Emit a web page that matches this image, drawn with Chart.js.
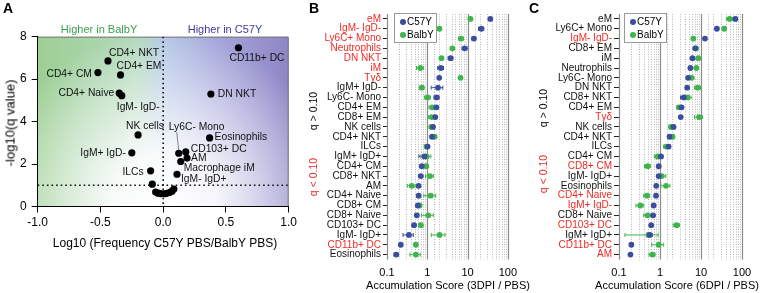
<!DOCTYPE html>
<html><head><meta charset="utf-8">
<script src="https://cdn.jsdelivr.net/npm/chart.js@4"></script>
<style>
body{margin:0;background:#fff;width:762px;height:293px;overflow:hidden;position:relative;font-family:"Liberation Sans",Arial,sans-serif;}
.box{position:absolute;}
.t{position:absolute;white-space:nowrap;line-height:1;transform:translate(-50%,-50%);}
.r{transform:translate(-50%,-50%) rotate(-90deg);}
.lg{position:absolute;border:1px solid #9a9a9a;background:#fff;}
.lg div{position:absolute;font-size:10px;line-height:1;}
.dot{position:absolute;width:6px;height:6px;border-radius:50%;}
</style></head><body>
<div class="box" style="left:0;top:0;width:300px;height:293px"><canvas id="cA"></canvas></div>
<div class="box" style="left:262px;top:0;width:262px;height:293px"><canvas id="cB"></canvas></div>
<div class="box" style="left:512px;top:0;width:250px;height:293px"><canvas id="cC"></canvas></div>

<div class="t" style="left:8px;top:8px;font-weight:bold;font-size:14px">A</div>
<div class="t" style="left:99px;top:29px;font-size:11px;color:#3aa04f">Higher in BalbY</div>
<div class="t" style="left:225px;top:29px;font-size:11px;color:#3c3c9c">Higher in C57Y</div>
<div class="t r" style="left:10px;top:123px;font-size:13px">-log10(q value)</div>
<div class="t" style="left:165px;top:243px;font-size:12px">Log10 (Frequency C57Y PBS/BalbY PBS)</div>

<div class="t" style="left:314px;top:8px;font-weight:bold;font-size:14px">B</div>
<div class="t r" style="left:313px;top:111px;font-size:10.5px">q &gt; 0.10</div>
<div class="t r" style="left:313px;top:177px;font-size:10.5px;color:#ee2a24">q &lt; 0.10</div>
<div class="t" style="left:448px;top:285px;font-size:11px">Accumulation Score (3DPI / PBS)</div>

<div class="t" style="left:534px;top:8px;font-weight:bold;font-size:14px">C</div>
<div class="t r" style="left:543px;top:108px;font-size:10.5px">q &gt; 0.10</div>
<div class="t r" style="left:543px;top:174px;font-size:10.5px;color:#ee2a24">q &lt; 0.10</div>
<div class="t" style="left:677px;top:285px;font-size:11px">Accumulation Score (6DPI / PBS)</div>

<div class="lg" style="left:394px;top:13px;width:41px;height:28px">
  <span class="dot" style="left:5px;top:5px;background:#3a4da0"></span><div style="left:12px;top:3px">C57Y</div>
  <span class="dot" style="left:5px;top:18px;background:#3db54a"></span><div style="left:12px;top:16px">BalbY</div>
</div>
<div class="lg" style="left:624px;top:13px;width:41px;height:28px">
  <span class="dot" style="left:5px;top:5px;background:#3a4da0"></span><div style="left:12px;top:3px">C57Y</div>
  <span class="dot" style="left:5px;top:18px;background:#3db54a"></span><div style="left:12px;top:16px">BalbY</div>
</div>

<script>
// ---------- Panel A data ----------
const volcanoNames = ['CD11b+ DC','CD4+ NKT','CD4+ CM','CD4+ EM','CD4+ Naive','IgM- IgD-','DN NKT','NK cells','Eosinophils','Ly6C- Mono','CD103+ DC','IgM+ IgD-','AM','Macrophage iM','ILCs','IgM- IgD+','','','','','','','','',''];
const volcanoX = [0.60,-0.44,-0.52,-0.34,-0.35,-0.33,0.38,-0.20,0.37,0.124,0.18,-0.25,0.19,0.14,-0.10,0.11,-0.087,-0.06,-0.04,-0.02,0.01,0.03,0.05,0.07,0.085];
const volcanoY = [7.48,6.86,6.31,6.20,5.34,5.22,5.30,3.37,3.23,2.51,2.57,2.53,2.28,2.12,1.68,1.52,1.05,0.68,0.63,0.61,0.60,0.62,0.66,0.72,0.82];
const xTicksA = [-1,-0.5,0,0.5,1];
const yTicksA = [0,2,4,6,8];
// label placement (style): offset in px from the point
const labelPlace = [
 {dx:-9,dy:10,a:'left'},{dx:1,dy:-8,a:'left'},{dx:-6,dy:2,a:'right'},{dx:-4,dy:-9,a:'left'},
 {dx:-5,dy:0,a:'right'},{dx:-5,dy:11,a:'left'},{dx:7,dy:0,a:'left'},{dx:-12,dy:-9,a:'left'},
 {dx:5,dy:-1,a:'left'},{dx:-10,dy:-26,a:'left',leader:true},{dx:5,dy:-3,a:'left'},{dx:-6,dy:0,a:'right'},
 {dx:4,dy:0,a:'left'},{dx:3,dy:7,a:'left'},{dx:-7,dy:1,a:'right'},{dx:4,dy:5,a:'left'}
];

// ---------- Panel B data ----------
const catsB = ['eM','IgM- IgD-','Ly6C+ Mono','Neutrophils','DN NKT','iM','Tγδ','IgM+ IgD-','Ly6C- Mono','CD4+ EM','CD8+ EM','NK cells','CD4+ NKT','ILCs','IgM+ IgD+','CD4+ CM','CD8+ NKT','AM','CD4+ Naive','CD8+ CM','CD8+ Naive','CD103+ DC','IgM- IgD+','CD11b+ DC','Eosinophils'];
const redB = ['eM','IgM- IgD-','Ly6C+ Mono','Neutrophils','DN NKT','iM','Tγδ','CD11b+ DC'];
const c57B = [36.8,22,14.4,8.5,3.8,2.17,1.98,1.84,1.71,1.68,1.58,1.39,1.32,1.02,0.85,0.73,0.69,0.61,0.61,0.58,0.55,0.47,0.35,0.22,0.17];
const c57BErr = [2,3.3,1.6,1.2,0.5,0.36,0.11,0.59,0.24,0.19,0.13,0.12,0.15,0.09,0.23,0.04,0.08,0.07,0.05,0.03,0.05,0.05,0.1,0.01,0.02];
const balbB = [11.8,2.0,6.9,4.2,2.25,0.67,6.7,0.73,1.02,1.32,1.29,1.25,1.53,0.96,0.96,0.93,1.16,0.41,1.22,0.65,1.06,0.69,2.01,0.52,0.52];
const balbBErr = [0.65,0.22,0.95,0.23,0.12,0.13,0.37,0.1,0.17,0.22,0.21,0.1,0.13,0.1,0.27,0.15,0.26,0.09,0.4,0.04,0.35,0.08,0.75,0.03,0.15];

// ---------- Panel C data ----------
const catsC = ['eM','Ly6C+ Mono','IgM- IgD-','CD8+ EM','iM','Neutrophils','Ly6C- Mono','DN NKT','CD8+ NKT','CD4+ EM','Tγδ','NK cells','CD4+ NKT','ILCs','CD4+ CM','CD8+ CM','IgM- IgD+','Eosinophils','CD4+ Naive','IgM+ IgD-','CD8+ Naive','CD103+ DC','IgM+ IgD+','CD11b+ DC','AM'];
const redC = ['IgM- IgD-','Tγδ','CD8+ CM','CD4+ Naive','IgM+ IgD-','CD103+ DC','CD11b+ DC','AM'];
const c57C = [69,24.4,12.5,7.2,6.2,5.5,4.85,4.6,3.8,3.35,3.2,2.14,1.71,1.62,1.06,0.93,0.93,0.81,0.8,0.70,0.68,0.61,0.56,0.20,0.19];
const c57CErr = [5.8,1.4,0.7,0.4,0.35,0.3,0.4,0.26,0.64,0.28,0.18,0.24,0.1,0.18,0.06,0.05,0.08,0.07,0.05,0.04,0.06,0.03,0.09,0.01,0.01];
const balbC = [50,36.8,6.5,7.6,8.6,7.7,5.96,8.3,4.7,2.88,8.96,1.85,2.03,1.42,0.88,0.50,1.10,1.40,0.48,0.33,0.50,2.54,0.52,0.93,0.65];
const balbCErr = [8.4,2,0.55,0.4,0.48,0.43,0.67,1.4,1.05,0.32,2,0.2,0.17,0.2,0.15,0.08,0.28,0.35,0.08,0.07,0.1,0.43,0.38,0.3,0.11];
const xMajorLabels = [0.1,1,10,100];

const FONT = '"Liberation Sans", Arial, sans-serif';
Chart.defaults.font.family = FONT;
Chart.defaults.color = '#000';
const BLUE = '#3a4da0', GREEN = '#3db54a', RED = '#ee2a24';

// ---------- Panel A ----------
const bgPlugin = {
  id:'bg',
  beforeDraw(chart){
    const {ctx, chartArea:a} = chart;
    const xs = chart.scales.x, ys = chart.scales.y;
    ctx.save();
    const g = ctx.createLinearGradient(a.left,0,a.right,0);
    g.addColorStop(0,'#9ccf93');
    g.addColorStop(0.4,'#b3d9bd');
    g.addColorStop(0.5,'#b3c8e6');
    g.addColorStop(0.7,'#a7a8dc');
    g.addColorStop(1,'#8e86c6');
    ctx.fillStyle = g;
    ctx.fillRect(a.left,a.top,a.right-a.left,a.bottom-a.top);
    const cx = xs.getPixelForValue(0), cy = ys.getPixelForValue(0);
    const r = ctx.createRadialGradient(cx,cy,0,cx,cy,175);
    r.addColorStop(0,'rgba(255,255,255,1)');
    r.addColorStop(0.3,'rgba(255,255,255,0.9)');
    r.addColorStop(1,'rgba(255,255,255,0)');
    ctx.fillStyle = r;
    ctx.fillRect(a.left,a.top,a.right-a.left,a.bottom-a.top);
    ctx.strokeStyle = '#777'; ctx.lineWidth = 1;
    ctx.beginPath(); ctx.moveTo(a.left,a.top+0.5); ctx.lineTo(a.right-0.5,a.top+0.5); ctx.lineTo(a.right-0.5,a.bottom); ctx.stroke();
    ctx.restore();
  },
  beforeDatasetsDraw(chart){
    const {ctx, chartArea:a} = chart;
    const xs = chart.scales.x, ys = chart.scales.y;
    ctx.save();
    ctx.strokeStyle = '#111'; ctx.lineWidth = 1.6; ctx.setLineDash([1.6,3]);
    const x0 = xs.getPixelForValue(0), y1 = ys.getPixelForValue(1);
    ctx.beginPath(); ctx.moveTo(x0,a.top); ctx.lineTo(x0,a.bottom); ctx.stroke();
    ctx.beginPath(); ctx.moveTo(a.left,y1); ctx.lineTo(a.right,y1); ctx.stroke();
    ctx.restore();
  },
  afterDatasetsDraw(chart){
    const {ctx} = chart;
    const meta = chart.getDatasetMeta(0);
    ctx.save();
    ctx.font = '10.3px ' + FONT; ctx.fillStyle = '#111'; ctx.textBaseline = 'middle';
    volcanoNames.forEach((n,i)=>{
      if(!n) return;
      const p = meta.data[i], s = labelPlace[i];
      const lx = p.x + s.dx, ly = p.y + s.dy;
      ctx.textAlign = s.a;
      ctx.fillText(n, lx, ly);
      if (s.leader){
        ctx.strokeStyle = '#666'; ctx.lineWidth = 0.8;
        ctx.beginPath(); ctx.moveTo(lx+8, ly+5); ctx.lineTo(p.x, p.y-3); ctx.stroke();
      }
    });
    ctx.restore();
  }
};

new Chart(document.getElementById('cA'), {
  type:'scatter',
  data:{datasets:[{data: volcanoX.map((x,i)=>({x, y: volcanoY[i]})), backgroundColor:'#000', borderWidth:0, pointRadius:3.6}]},
  options:{
    responsive:true, maintainAspectRatio:false, animation:false, devicePixelRatio:1,
    layout:{padding:{left:0, top:36.7, right:9, bottom:56.5}},
    plugins:{legend:{display:false}, tooltip:{enabled:false}},
    scales:{
      x:{type:'linear', min:-1, max:1,
         afterBuildTicks: s => { s.ticks = xTicksA.map(v=>({value:v})); },
         afterFit: s => { s.height = 30; },
         ticks:{font:{size:12}, padding:3, callback: v => Number(v).toFixed(1), maxRotation:0},
         grid:{drawOnChartArea:false, tickLength:6, tickColor:'#000', color:'#000'},
         border:{color:'#000', width:1}},
      y:{type:'linear', min:0, max:8,
         afterBuildTicks: s => { s.ticks = yTicksA.map(v=>({value:v})); },
         afterFit: s => { s.width = 37.7; },
         ticks:{font:{size:12}, padding:5},
         grid:{drawOnChartArea:false, tickLength:6, tickColor:'#000', color:'#000'},
         border:{color:'#000', width:1}}
    }
  },
  plugins:[bgPlugin]
});

// ---------- Panels B & C ----------
const logGrid = {
  id:'logGrid',
  beforeDatasetsDraw(chart){
    const {ctx, chartArea:a} = chart;
    const xs = chart.scales.x;
    ctx.save();
    xs.ticks.forEach(t=>{
      const v = t.value, l = Math.log10(v);
      const major = Math.abs(l - Math.round(l)) < 1e-6;
      const px = Math.round(xs.getPixelForValue(v)) + 0.5;
      ctx.beginPath();
      if (major){ ctx.setLineDash([]); ctx.strokeStyle = '#8a8a8a'; ctx.lineWidth = 1.2; }
      else { ctx.setLineDash([1,1.5]); ctx.strokeStyle = '#b8b8b8'; ctx.lineWidth = 1; }
      ctx.moveTo(px, a.top); ctx.lineTo(px, a.bottom); ctx.stroke();
    });
    ctx.restore();
    // error bars
    ctx.save();
    chart.data.datasets.forEach((ds,di)=>{
      const meta = chart.getDatasetMeta(di);
      ctx.strokeStyle = ds.backgroundColor; ctx.lineWidth = 1; ctx.setLineDash([]);
      ds.data.forEach((p,i)=>{
        const e = ds.errors[i];
        const lo = Math.max(p.x - e, xs.min), hi = p.x + e;
        const y = meta.data[i].y;
        const x1 = xs.getPixelForValue(lo), x2 = xs.getPixelForValue(hi);
        ctx.beginPath();
        ctx.moveTo(x1,y); ctx.lineTo(x2,y);
        ctx.moveTo(x1,y-2); ctx.lineTo(x1,y+2);
        ctx.moveTo(x2,y-2); ctx.lineTo(x2,y+2);
        ctx.stroke();
      });
    });
    ctx.restore();
  }
};

function makeDot(id, cats, reds, blue, blueErr, green, greenErr, yWidth, padRight, tickLen){
  new Chart(document.getElementById(id), {
    type:'scatter',
    data:{datasets:[
      {label:'C57Y', data: blue.map((v,i)=>({x:v, y:i})), errors: blueErr, backgroundColor:BLUE, borderWidth:0, pointRadius:2.9},
      {label:'BalbY', data: green.map((v,i)=>({x:v, y:i})), errors: greenErr, backgroundColor:GREEN, borderWidth:0, pointRadius:2.9}
    ]},
    options:{
      responsive:true, maintainAspectRatio:false, animation:false, devicePixelRatio:1,
      layout:{padding:{left:0, top:14, right:padRight, bottom:13.5}},
      plugins:{legend:{display:false}, tooltip:{enabled:false}},
      scales:{
        x:{type:'logarithmic', min:0.1, max:100,
           afterFit: s => { s.height = 20; },
           ticks:{autoSkip:false, maxRotation:0, font:{size:11}, padding:7,
             callback: v => { const l = Math.log10(v); return xMajorLabels.some(m => Math.abs(Math.log10(m)-l) < 1e-6) ? String(xMajorLabels.find(m => Math.abs(Math.log10(m)-l) < 1e-6)) : ''; }},
           grid:{display:false, drawTicks:false}, border:{display:false}},
        y:{type:'category', labels: cats, offset:true,
           afterFit: s => { s.width = yWidth; },
           ticks:{autoSkip:false, font:{size:10}, padding:2,
             color: c => reds.includes(cats[c.index]) ? RED : '#111'},
           grid:{display:true, drawOnChartArea:false, drawTicks:true, tickLength:tickLen, tickColor:'#222', offset:false},
           border:{display:false}}
      }
    },
    plugins:[logGrid]
  });
}
makeDot('cB', catsB, redB, c57B, c57BErr, balbB, balbBErr, 125, 12, 4);
makeDot('cC', catsC, redC, c57C, c57CErr, balbC, balbCErr, 107, 20, 5);
</script>
</body></html>
